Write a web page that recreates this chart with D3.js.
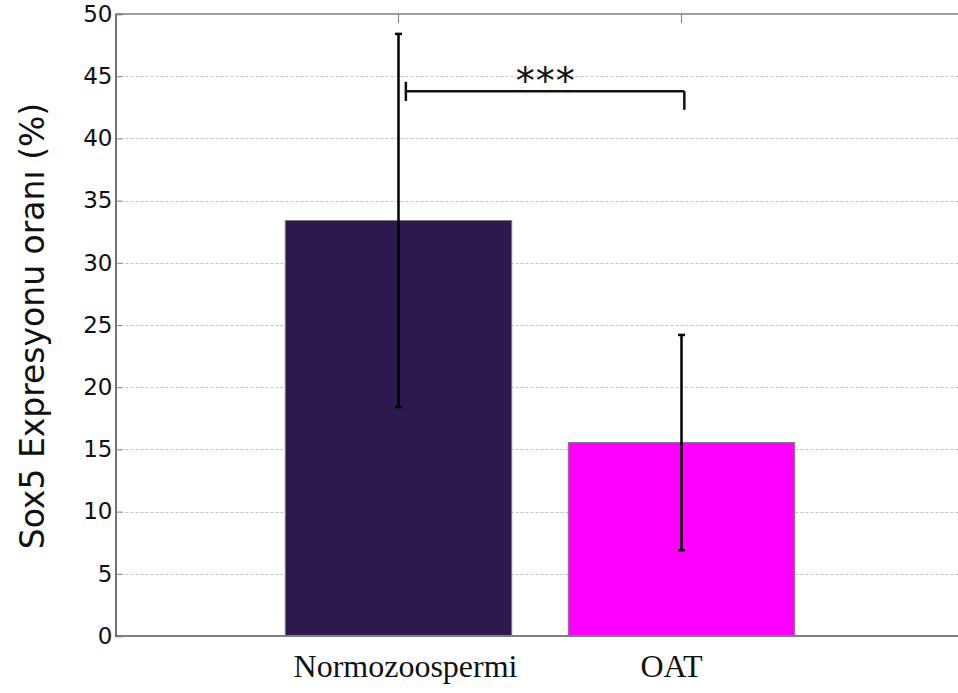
<!DOCTYPE html>
<html>
<head>
<meta charset="utf-8">
<script src="https://cdn.jsdelivr.net/npm/d3@7"></script>
<style>
    body { margin: 0; background: #fff; }
    svg { display: block; }
</style>
</head>
<body>
<div id="chart"></div>
<script>
// values
var categories = ["Normozoospermi", "OAT"];
var means = [33.4, 15.55];
var errors = [15.0, 8.65];
var barColors = ["#2d1950", "#ff00ff"];
var yTicks = [0, 5, 10, 15, 20, 25, 30, 35, 40, 45, 50];
var yLabel = "Sox5 Expresyonu oranı (%)";
var sigLabel = "***";

var width = 958, height = 693;
var margin = {top: 14, left: 115.5, bottom: 636};

var svg = d3.select("#chart")
    .append("svg")
    .attr("width", width)
    .attr("height", height);

// x runs 0..3 with bars at 1 and 2 (the right end is cut off by the window)
var x = d3.scaleLinear()
    .domain([0, 3])
    .range([margin.left, margin.left + 3 * 283]);

var y = d3.scaleLinear()
    .domain([0, 50])
    .range([margin.bottom, margin.top]);

var barWidth = x(0.8) - x(0);

// dotted grid
svg.append("g")
    .selectAll("line")
    .data(yTicks.slice(1, -1))
    .enter()
    .append("line")
    .attr("x1", margin.left)
    .attr("x2", width)
    .attr("y1", function (d) { return Math.round(y(d)) + 0.5; })
    .attr("y2", function (d) { return Math.round(y(d)) + 0.5; })
    .attr("stroke", "#c4c4c4")
    .attr("stroke-width", 1)
    .attr("stroke-dasharray", "3,2");

// bars
svg.append("g")
    .selectAll("rect")
    .data(means)
    .enter()
    .append("rect")
    .attr("x", function (d, i) { return x(i + 1) - barWidth / 2; })
    .attr("y", function (d) { return y(d); })
    .attr("width", barWidth)
    .attr("height", function (d) { return y(0) - y(d); })
    .attr("fill", function (d, i) { return barColors[i]; })
    .attr("stroke", "#7a7a7a")
    .attr("stroke-width", 1);

// error bars
var err = svg.append("g")
    .attr("stroke", "#000")
    .attr("stroke-width", 2.5);

means.forEach(function (m, i) {
    var cx = x(i + 1);
    err.append("line")
        .attr("x1", cx).attr("x2", cx)
        .attr("y1", y(m - errors[i])).attr("y2", y(m + errors[i]));
    [m - errors[i], m + errors[i]].forEach(function (v) {
        err.append("line")
            .attr("x1", cx - 3.5).attr("x2", cx + 3.5)
            .attr("y1", y(v)).attr("y2", y(v))
            .attr("stroke-width", 2.5);
    });
});

// top and bottom frame lines
svg.append("line")
    .attr("x1", margin.left).attr("x2", width)
    .attr("y1", y(50)).attr("y2", y(50))
    .attr("stroke", "#808080").attr("stroke-width", 1.5);

svg.append("line")
    .attr("x1", margin.left).attr("x2", width)
    .attr("y1", y(0)).attr("y2", y(0))
    .attr("stroke", "#808080").attr("stroke-width", 2);

// small tick marks at the top for each category
svg.append("g")
    .selectAll("line")
    .data(categories)
    .enter()
    .append("line")
    .attr("x1", function (d, i) { return x(i + 1); })
    .attr("x2", function (d, i) { return x(i + 1); })
    .attr("y1", y(50))
    .attr("y2", y(50) + 9)
    .attr("stroke", "#808080")
    .attr("stroke-width", 1);

// y axis
var yAxis = d3.axisLeft(y)
    .tickValues(yTicks)
    .tickSize(-7)
    .tickPadding(3);

var yAxisG = svg.append("g")
    .attr("transform", "translate(" + margin.left + ",0)")
    .call(yAxis);

yAxisG.select(".domain").attr("stroke", "#444").attr("stroke-width", 1.5);
yAxisG.selectAll(".tick line").attr("stroke", "#888");
yAxisG.selectAll(".tick text")
    .attr("font-family", "DejaVu Sans, sans-serif")
    .attr("font-size", 23)
    .attr("fill", "#111");

// y label
svg.append("text")
    .attr("transform", "translate(44," + (y(25) + 1) + ") rotate(-90)")
    .attr("text-anchor", "middle")
    .attr("font-family", "DejaVu Sans, sans-serif")
    .attr("font-size", 33)
    .attr("fill", "#111")
    .text(yLabel);

// category labels
var labelShift = [7, -10];
svg.append("g")
    .selectAll("text")
    .data(categories)
    .enter()
    .append("text")
    .attr("x", function (d, i) { return x(i + 1) + labelShift[i]; })
    .attr("y", 677)
    .attr("text-anchor", "middle")
    .attr("font-family", "Liberation Serif, Times New Roman, serif")
    .attr("font-size", 32)
    .attr("fill", "#111")
    .text(function (d) { return d; });

// significance bracket
var sig = svg.append("g")
    .attr("stroke", "#111")
    .attr("stroke-width", 2.5)
    .attr("fill", "none");

var bx1 = x(1.026), bx2 = x(2.01), by = y(43.8);
sig.append("line").attr("x1", bx1).attr("x2", bx2).attr("y1", by).attr("y2", by);
sig.append("line").attr("x1", bx1).attr("x2", bx1).attr("y1", y(44.55)).attr("y2", y(43.0));
sig.append("line").attr("x1", bx2).attr("x2", bx2).attr("y1", by).attr("y2", y(42.3));

svg.append("text")
    .attr("x", x(1.52))
    .attr("y", y(43.6))
    .attr("text-anchor", "middle")
    .attr("font-family", "DejaVu Sans, sans-serif")
    .attr("font-size", 38)
    .attr("letter-spacing", 1)
    .attr("fill", "#111")
    .text(sigLabel);
</script>
</body>
</html>
